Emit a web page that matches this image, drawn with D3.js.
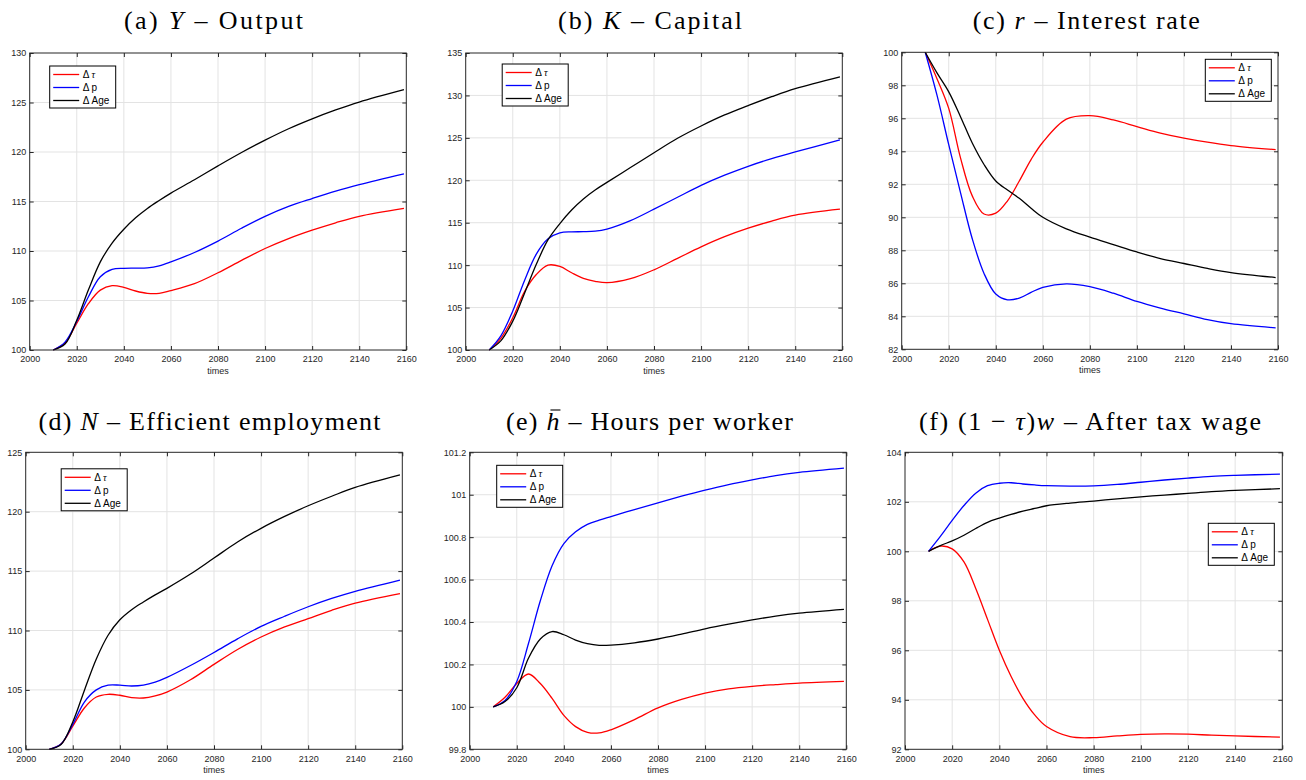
<!DOCTYPE html>
<html>
<head>
<meta charset="utf-8">
<script src="https://d3js.org/d3.v7.min.js"></script>
<style>
  body { margin: 0; background: #fff; }
  .tick text { font: 9px "Liberation Sans", Arial, sans-serif; fill: #262626; }
  .ttl { font-family: "Liberation Serif", "Times New Roman", serif; font-size: 26px; fill: #000; white-space: pre; }
  .lg { font: 10px "Liberation Sans", Arial, sans-serif; fill: #000; white-space: pre; }
</style>
</head>
<body>
<script>
// sample years
var years = [2010, 2015, 2020, 2025, 2030, 2035, 2040, 2045, 2050, 2055, 2060, 2070, 2080, 2090, 2100, 2110, 2120, 2130, 2140, 2159];
var xTicks = [2000, 2020, 2040, 2060, 2080, 2100, 2120, 2140, 2160];
var legendLabels = ["τ", "p", "Age"];

// (a) Y - Output
var outputTau = [100, 100.7, 102.7, 104.7, 106.05, 106.5, 106.33, 105.96, 105.72, 105.72, 106.0, 106.7, 107.8, 109.05, 110.25, 111.25, 112.1, 112.85, 113.5, 114.3];
var outputP   = [100, 100.8, 102.9, 105.4, 107.4, 108.15, 108.25, 108.27, 108.3, 108.5, 108.9, 109.85, 111.0, 112.3, 113.5, 114.5, 115.3, 116.05, 116.7, 117.8];
var outputAge = [100, 100.6, 103.0, 106.1, 108.9, 110.8, 112.2, 113.35, 114.3, 115.1, 115.85, 117.2, 118.6, 119.95, 121.2, 122.35, 123.35, 124.25, 125.05, 126.3];
var outputTicks = [100, 105, 110, 115, 120, 125, 130];

// (b) K - Capital
var capitalTau = [100, 101.4, 103.8, 106.9, 108.9, 110.0, 109.85, 109.1, 108.45, 108.1, 107.93, 108.4, 109.45, 110.8, 112.15, 113.35, 114.35, 115.2, 115.9, 116.6];
var capitalP   = [100, 101.7, 104.6, 108.2, 111.3, 113.1, 113.8, 113.92, 113.94, 114.0, 114.25, 115.25, 116.6, 118.0, 119.4, 120.6, 121.65, 122.55, 123.35, 124.75];
var capitalAge = [100, 101.1, 103.4, 106.7, 110.1, 113.0, 114.9, 116.5, 117.8, 118.85, 119.75, 121.5, 123.25, 124.95, 126.4, 127.7, 128.8, 129.85, 130.8, 132.2];
var capitalTicks = [100, 105, 110, 115, 120, 125, 130, 135];

// (c) r - Interest rate
var rateTau = [100, 98.4, 96.6, 93.6, 91.3, 90.2, 90.25, 91.0, 92.2, 93.5, 94.55, 95.95, 96.16, 95.9, 95.5, 95.1, 94.8, 94.55, 94.35, 94.1];
var rateP   = [100, 97.4, 94.4, 91.5, 88.7, 86.6, 85.35, 85.0, 85.1, 85.45, 85.75, 85.97, 85.8, 85.4, 84.9, 84.5, 84.15, 83.8, 83.55, 83.3];
var rateAge = [100, 98.75, 97.6, 96.1, 94.5, 93.2, 92.2, 91.65, 91.15, 90.55, 90.0, 89.3, 88.8, 88.35, 87.9, 87.5, 87.2, 86.9, 86.65, 86.35];
var rateTicks = [82, 84, 86, 88, 90, 92, 94, 96, 98, 100];

// (d) N - Efficient employment
var employTau = [100, 100.45, 101.95, 103.5, 104.4, 104.63, 104.55, 104.35, 104.32, 104.5, 104.82, 105.85, 107.15, 108.4, 109.45, 110.3, 111.0, 111.7, 112.3, 113.1];
var employP   = [100, 100.45, 102.1, 104.0, 105.0, 105.4, 105.4, 105.33, 105.4, 105.65, 106.05, 107.05, 108.15, 109.3, 110.35, 111.2, 112.0, 112.7, 113.3, 114.25];
var employAge = [100, 100.4, 102.3, 105.0, 107.6, 109.6, 110.9, 111.75, 112.4, 113.0, 113.55, 114.75, 116.1, 117.45, 118.6, 119.6, 120.5, 121.3, 122.05, 123.1];
var employTicks = [100, 105, 110, 115, 120, 125];

// (e) h bar - Hours per worker
var hoursTau = [100, 100.045, 100.11, 100.155, 100.11, 100.04, 99.96, 99.907, 99.88, 99.877, 99.892, 99.94, 99.995, 100.035, 100.065, 100.085, 100.097, 100.105, 100.112, 100.12];
var hoursP   = [100, 100.03, 100.12, 100.30, 100.50, 100.665, 100.77, 100.825, 100.86, 100.88, 100.897, 100.93, 100.962, 100.993, 101.022, 101.048, 101.07, 101.09, 101.105, 101.125];
var hoursAge = [100, 100.025, 100.09, 100.23, 100.32, 100.355, 100.34, 100.315, 100.298, 100.29, 100.291, 100.302, 100.32, 100.343, 100.368, 100.39, 100.41, 100.428, 100.442, 100.46];
var hoursTicks = [99.8, 100, 100.2, 100.4, 100.6, 100.8, 101, 101.2];

// (f) (1-tau)w - After tax wage
var wageTau = [100, 100.21, 100.1, 99.57, 98.5, 97.25, 96.0, 94.94, 94.06, 93.39, 92.92, 92.51, 92.47, 92.54, 92.6, 92.62, 92.61, 92.57, 92.54, 92.49];
var wageP   = [100, 100.6, 101.25, 101.85, 102.35, 102.65, 102.75, 102.77, 102.72, 102.68, 102.65, 102.63, 102.64, 102.7, 102.79, 102.88, 102.96, 103.03, 103.07, 103.12];
var wageAge = [100, 100.23, 100.42, 100.65, 100.92, 101.17, 101.34, 101.49, 101.62, 101.73, 101.84, 101.95, 102.03, 102.12, 102.2, 102.27, 102.34, 102.41, 102.46, 102.53];
var wageTicks = [92, 94, 96, 98, 100, 102, 104];

var colors = ["#ff0000", "#0000ff", "#000000"];

var width = 1306, height = 780;
var svg = d3.select("body").append("svg")
    .attr("width", width)
    .attr("height", height);

// panel boxes: l, r, t, b ; title centre + width ; legend offset
var panels = [
  {title: [["(a) ", 0], ["Y", 1], [" – Output", 0]], tx: 213.5, ty: 29, tw: 179,
   box: [29.7, 406.3, 53, 350], yt: outputTicks, s: [outputTau, outputP, outputAge], lg: {left: 20, top: 13}},
  {title: [["(b) ", 0], ["K", 1], [" – Capital", 0]], tx: 650, ty: 29, tw: 184,
   box: [465.7, 842.3, 53, 350], yt: capitalTicks, s: [capitalTau, capitalP, capitalAge], lg: {left: 36.5, top: 11}},
  {title: [["(c) ", 0], ["r", 1], [" – Interest rate", 0]], tx: 1086.3, ty: 29, tw: 227,
   box: [901.7, 1278, 52.3, 349.3], yt: rateTicks, s: [rateTau, rateP, rateAge], lg: {right: 6.7, top: 7}},
  {title: [["(d) ", 0], ["N", 1], [" – Efficient employment", 0]], tx: 209.5, ty: 430, tw: 342,
   box: [25.7, 402.3, 452.3, 749.3], yt: employTicks, s: [employTau, employP, employAge], lg: {left: 35.5, top: 16.5}},
  {title: [["(e) ", 0], ["h", 1], [" – Hours per worker", 0]], tx: 649.5, ty: 430, tw: 287, bar: 4,
   box: [469.7, 846.3, 452.3, 749.3], yt: hoursTicks, s: [hoursTau, hoursP, hoursAge], lg: {left: 27, top: 13}},
  {title: [["(f) (1 − ", 0], ["τ", 1], [")", 0], ["w", 1], [" – After tax wage", 0]], tx: 1090, ty: 430, tw: 342,
   box: [905, 1282.3, 452.3, 749.3], yt: wageTicks, s: [wageTau, wageP, wageAge], lg: {right: 8, top: 71}}
];

panels.forEach(function(p) {
  var l = p.box[0], r = p.box[1], t = p.box[2], b = p.box[3];
  var yt = p.yt;
  var x = d3.scaleLinear().domain([2000, 2160]).range([l, r]);
  var y = d3.scaleLinear().domain([yt[0], yt[yt.length - 1]]).range([b, t]);

  // title (stretched to the width of the LaTeX caption)
  var tt = svg.append("text").attr("class", "ttl")
      .attr("x", p.tx - p.tw / 2).attr("y", p.ty)
      .attr("textLength", p.tw).attr("lengthAdjust", "spacing");
  p.title.forEach(function(part) {
    tt.append("tspan").text(part[0]).style("font-style", part[1] ? "italic" : "normal");
  });
  if (p.bar != null) {
    // overbar on h
    var ext = tt.node().getExtentOfChar(p.bar);
    svg.append("line")
        .attr("x1", ext.x + 4).attr("x2", ext.x + ext.width + 1)
        .attr("y1", p.ty - 20).attr("y2", p.ty - 20)
        .attr("stroke", "#000").attr("stroke-width", 1.1);
  }

  // grid
  var g = svg.append("g");
  g.selectAll(".gx").data(xTicks.slice(1, -1)).enter().append("line")
      .attr("x1", d => x(d)).attr("x2", d => x(d)).attr("y1", t).attr("y2", b)
      .attr("stroke", "#e3e3e3").attr("stroke-width", 1);
  g.selectAll(".gy").data(yt.slice(1, -1)).enter().append("line")
      .attr("y1", d => y(d)).attr("y2", d => y(d)).attr("x1", l).attr("x2", r)
      .attr("stroke", "#e3e3e3").attr("stroke-width", 1);

  // axes with inward ticks on all four sides
  var ax = svg.append("g").attr("transform", "translate(0," + b + ")")
      .call(d3.axisBottom(x).tickValues(xTicks).tickFormat(d3.format("d")).tickSize(-4).tickSizeOuter(0).tickPadding(6));
  var ay = svg.append("g").attr("transform", "translate(" + l + ",0)")
      .call(d3.axisLeft(y).tickValues(yt).tickFormat(d => +d.toFixed(1) + "").tickSize(-4).tickSizeOuter(0).tickPadding(3.5));
  var axt = svg.append("g").attr("transform", "translate(0," + t + ")")
      .call(d3.axisTop(x).tickValues(xTicks).tickFormat("").tickSize(-4).tickSizeOuter(0));
  var ayr = svg.append("g").attr("transform", "translate(" + r + ",0)")
      .call(d3.axisRight(y).tickValues(yt).tickFormat("").tickSize(-4).tickSizeOuter(0));
  [ax, ay, axt, ayr].forEach(function(a) {
    a.select(".domain").remove();
    a.selectAll(".tick line").attr("stroke", "#262626");
  });

  // x label
  svg.append("text").attr("x", (l + r) / 2).attr("y", b + 23.5)
      .attr("text-anchor", "middle")
      .style("font", "9px 'Liberation Sans', Arial, sans-serif").style("fill", "#262626")
      .text("times");

  // series
  var line = d3.line().x((d, i) => x(years[i])).y(d => y(d)).curve(d3.curveCatmullRom.alpha(0.5));
  p.s.forEach(function(vals, k) {
    svg.append("path").datum(vals).attr("d", line)
        .attr("fill", "none").attr("stroke", colors[k]).attr("stroke-width", 1.3);
  });

  // frame
  svg.append("rect").attr("x", l).attr("y", t).attr("width", r - l).attr("height", b - t)
      .attr("fill", "none").attr("stroke", "#262626").attr("stroke-width", 1);

  // legend
  var lw = 66, lh = 42;
  var lx = p.lg.left != null ? l + p.lg.left : r - p.lg.right - lw;
  var ly = t + p.lg.top;
  var lg = svg.append("g").attr("transform", "translate(" + lx + "," + ly + ")");
  lg.append("rect").attr("width", lw).attr("height", lh)
      .attr("fill", "#fff").attr("stroke", "#000").attr("stroke-width", 1);
  legendLabels.forEach(function(lab, k) {
    var yy = 8.5 + k * 13;
    lg.append("line").attr("x1", 3.5).attr("x2", 29.5).attr("y1", yy).attr("y2", yy)
        .attr("stroke", colors[k]).attr("stroke-width", 1.3);
    var tx = lg.append("text").attr("class", "lg").attr("x", 33).attr("y", yy + 3.5);
    tx.append("tspan").text("Δ ");
    tx.append("tspan").text(lab).style("font-style", k === 0 ? "italic" : "normal")
        .style("font-family", k === 0 ? "'Liberation Serif', serif" : null);
  });
});
</script>
</body>
</html>
